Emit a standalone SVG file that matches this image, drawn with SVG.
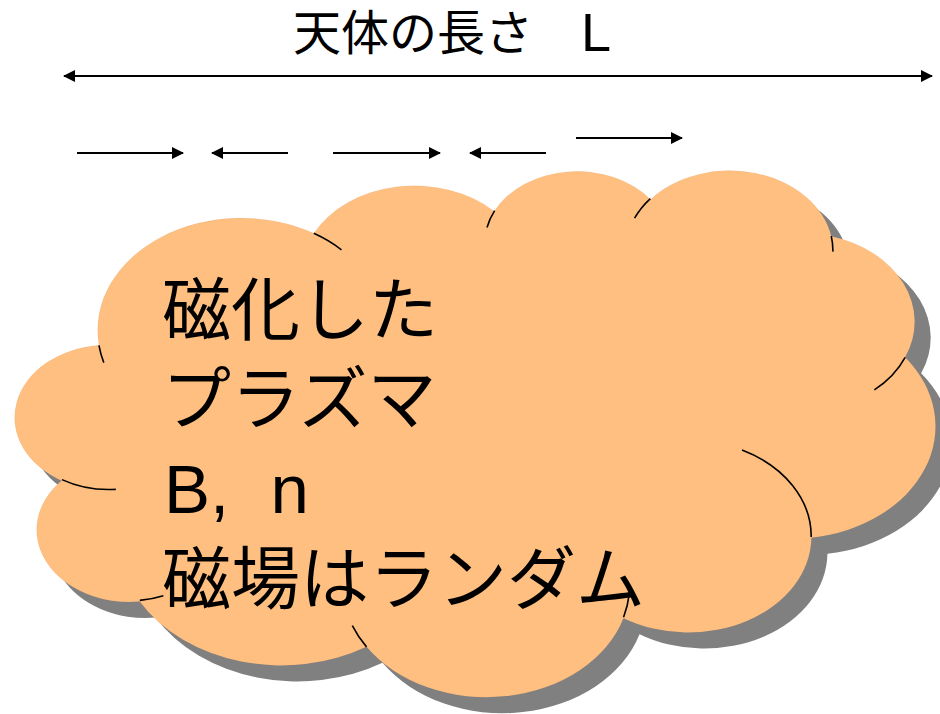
<svg xmlns="http://www.w3.org/2000/svg" xmlns:xlink="http://www.w3.org/1999/xlink" width="940" height="714" viewBox="0 0 940 714">
  <style>
    .txt { font-family: "Liberation Sans", "Noto Sans CJK JP", sans-serif; fill: #000; }
    .title { font-size: 48px; }
    .body { font-size: 69px; }
    .arrow { stroke: #000; stroke-width: 2; fill: none; }
    .outline { fill: #FFBF80; stroke: #000; stroke-width: 2; vector-effect: non-scaling-stroke; }
    .shadow { fill: #808080; stroke: none; }
    .decor { fill: none; stroke: #000; stroke-width: 1.6; vector-effect: non-scaling-stroke; }
  </style>
  <defs>
    <marker id="head" viewBox="0 0 12 12" refX="11" refY="6" markerWidth="12" markerHeight="12" markerUnits="userSpaceOnUse" orient="auto-start-reverse">
      <path d="M0,0 L12,6 L0,12 Z" fill="#000"/>
    </marker>
    <path id="cloudShape" d="M3900 14370 A6753 9190 0 0 1 14000 5192 A5333 7267 0 0 1 22478 3380 A4365 5945 0 0 1 29826 2410 A4857 6595 0 0 1 38324 5426 A5333 7273 0 0 1 41798 15354 A6775 9220 0 0 1 37392 30146 A5785 7867 0 0 1 28558 36736 A6752 9215 0 0 1 16478 39090 A7720 10543 0 0 1 5812 35375 A4360 5918 0 0 1 2137 25464 A4345 5945 0 0 1 3900 14370 Z"/>
  </defs>

  <g id="cloud">
    <g transform="translate(32,186) scale(0.021273,0.012199)">
      <use xlink:href="#cloudShape" class="shadow"/>
    </g>
    <g transform="translate(16,170) scale(0.021273,0.012199)">
      <use xlink:href="#cloudShape" class="outline"/>
      <path class="decor" d="M4693 26177 A4345 5945 0 0 1 2160 25380 M6928 34899 A4360 5918 0 0 1 5820 35281 M16478 39090 A6752 9215 0 0 1 15810 37350 M28827 34751 A6752 9215 0 0 1 28560 36660 M34129 22954 A5785 7867 0 0 1 37380 30090 M41798 15354 A5333 7273 0 0 1 40350 18030 M38324 5426 A4857 6595 0 0 1 38400 6690 M29078 3952 A4857 6595 0 0 1 29820 2340 M22141 4720 A4365 5945 0 0 1 22500 3329 M14000 5192 A6753 9190 0 0 1 15300 6540 M4127 15789 A6753 9190 0 0 1 3900 14370"/>
    </g>
    <text class="txt body" x="162" y="335">磁化した</text>
    <text class="txt body" x="162" y="424">プラズマ</text>
    <text class="txt body" x="164" y="513">B,<tspan dx="4"> </tspan><tspan dx="18">n</tspan></text>
    <text class="txt body" x="162" y="604">磁場はランダム</text>
  </g>

  <g id="title">
    <text class="txt title" x="293" y="50">天体の長さ　<tspan font-size="54" dy="1">L</tspan></text>
  </g>

  <g id="connectors">
    <line class="arrow" x1="64" y1="76" x2="932" y2="76" marker-start="url(#head)" marker-end="url(#head)"/>
    <line class="arrow" x1="77" y1="153" x2="183" y2="153" marker-end="url(#head)"/>
    <line class="arrow" x1="288" y1="153" x2="212" y2="153" marker-end="url(#head)"/>
    <line class="arrow" x1="333" y1="153" x2="440" y2="153" marker-end="url(#head)"/>
    <line class="arrow" x1="546" y1="153" x2="470" y2="153" marker-end="url(#head)"/>
    <line class="arrow" x1="576" y1="138" x2="682" y2="138" marker-end="url(#head)"/>
  </g>
</svg>
